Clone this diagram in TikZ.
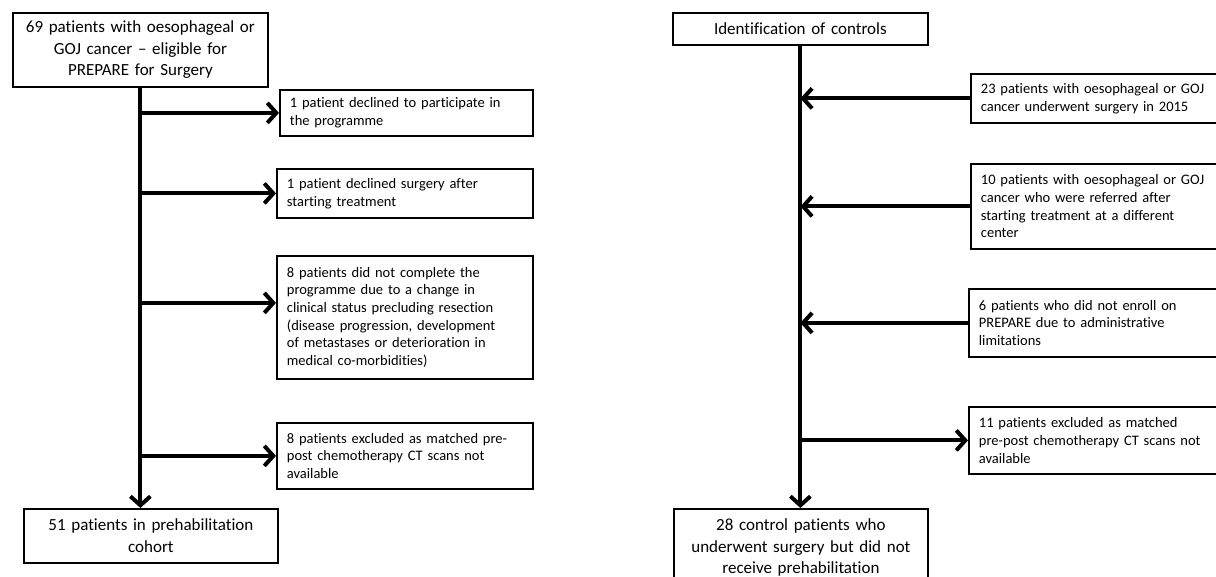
\documentclass[tikz,border=0pt]{standalone}
\usepackage{fontspec}
\setmainfont{Carlito}[Ligatures=NoCommon]
\usetikzlibrary{arrows.meta, positioning}

\begin{document}
\begin{tikzpicture}[
        x=1pt, y=-1pt,
        mainbox/.style={rectangle, draw, line width=1.8pt, anchor=north west, align=center, inner xsep=8pt, inner ysep=0pt, font=\fontsize{17}{21.5}\selectfont},
        sidebox/.style={rectangle, draw, line width=1.8pt, anchor=north west, align=left, inner xsep=10pt, inner ysep=0pt, font=\fontsize{14.5}{17.7}\selectfont},
        line/.style={draw, line width=4pt, -{Straight Barb[length=9pt, width=20pt]}}
    ]
    \clip (0,0) rectangle (1216,577);

    % Prehabilitation cohort
    \node[mainbox, text width=239pt, minimum height=74pt] (elig) at (12,12) {69 patients with oesophageal or\\GOJ cancer – eligible for\\PREPARE for Surgery};
    \node[sidebox, text width=233pt, minimum height=46pt] (decl) at (279,89) {1 patient declined to participate in\\the programme};
    \node[sidebox, text width=236pt, minimum height=49pt] (nosurg) at (276,168) {1 patient declined surgery after\\starting treatment};
    \node[sidebox, text width=236pt, minimum height=123pt] (status) at (276,255) {8 patients did not complete the\\programme due to a change in\\clinical status precluding resection\\(disease progression, development\\of metastases or deterioration in\\medical co-morbidities)};
    \node[sidebox, text width=236pt, minimum height=66pt] (noscan) at (276,422) {8 patients excluded as matched pre-\\post chemotherapy CT scans not\\available};
    \node[mainbox, text width=238pt, minimum height=54pt] (prehab) at (23,508) {51 patients in prehabilitation\\cohort};

    % Controls
    \node[mainbox, text width=239pt, minimum height=32pt] (ident) at (672,12) {Identification of controls};
    \node[sidebox, text width=250pt, minimum height=49pt] (surg) at (970,73) {23 patients with oesophageal or GOJ\\cancer underwent surgery in 2015};
    \node[sidebox, text width=250pt, minimum height=85pt] (referred) at (970,163) {10 patients with oesophageal or GOJ\\cancer who were referred after\\starting treatment at a different\\center};
    \node[sidebox, text width=252pt, minimum height=68pt] (admin) at (968,288) {6 patients who did not enroll on\\PREPARE due to administrative\\limitations};
    \node[sidebox, text width=252pt, minimum height=67pt] (ctscan) at (968,406) {11 patients excluded as matched\\pre-post chemotherapy CT scans not\\available};
    \node[mainbox, text width=238pt, minimum height=78pt] (control) at (673,508) {28 control patients who\\underwent surgery but did not\\receive prehabilitation};

    \coordinate (statusin) at ([yshift=14.5pt]status.west);

    % connectors
    \path [line] (elig.south) -- (elig.south |- prehab.north);
    \path [line] (elig.south |- decl.west) -- (decl.west);
    \path [line] (elig.south |- nosurg.west) -- (nosurg.west);
    \path [line] (elig.south |- statusin) -- (statusin);
    \path [line] (elig.south |- noscan.west) -- (noscan.west);

    \path [line] (ident.south) -- (ident.south |- control.north);
    \path [line] (surg.west) -- (surg.west -| ident.south);
    \path [line] (referred.west) -- (referred.west -| ident.south);
    \path [line] (admin.west) -- (admin.west -| ident.south);
    \path [line] (ident.south |- ctscan.west) -- (ctscan.west);

\end{tikzpicture}
\end{document}
